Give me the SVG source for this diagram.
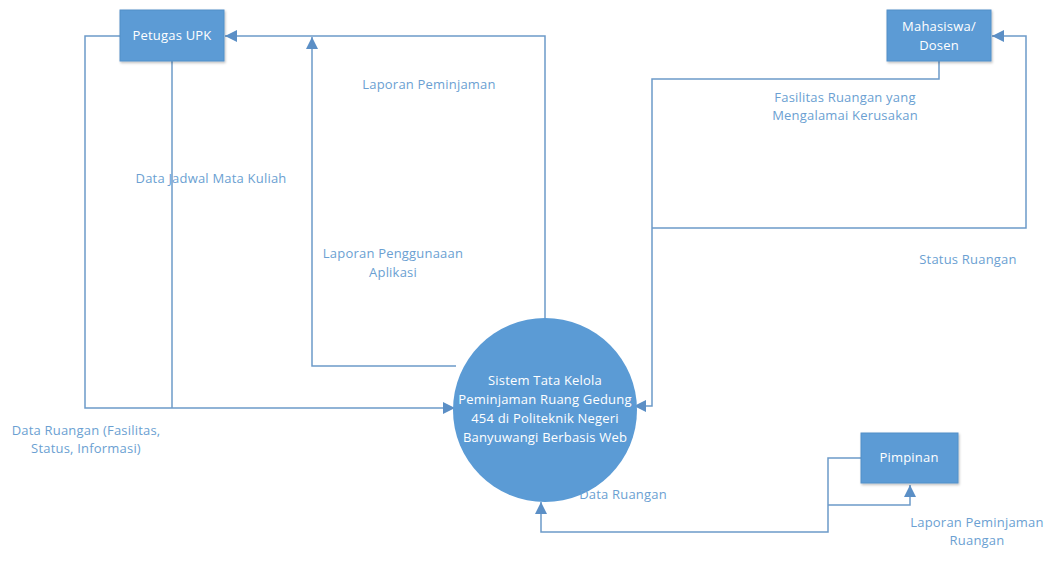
<svg xmlns="http://www.w3.org/2000/svg" width="1062" height="574" viewBox="0 0 1062 574">
<style>
.box{fill:#5b9bd5;stroke:#5590c8;stroke-width:1}
.node-text{font-family:"Open Sans","Liberation Sans",sans-serif;font-size:13px;letter-spacing:0.2px;fill:#ffffff;text-anchor:middle}
.lbl{font-family:"Open Sans","Liberation Sans",sans-serif;font-size:13px;letter-spacing:0.2px;fill:#6b9fd2;text-anchor:middle}
.conn{fill:none;stroke:#6c9bc9;stroke-width:1.5}
</style>
<defs>
<marker id="arr" viewBox="0 0 12 12" refX="12" refY="6" markerWidth="12" markerHeight="12" markerUnits="userSpaceOnUse" orient="auto">
<path d="M0,0 L12,6 L0,12 z" fill="#5b8fc6"/>
</marker>
<filter id="sh" x="-10%" y="-10%" width="130%" height="130%">
<feDropShadow dx="1" dy="1.5" stdDeviation="1.2" flood-color="#000" flood-opacity="0.25"/>
</filter>
</defs>
<rect width="1062" height="574" fill="#ffffff"/>
<g id="connectors">
<path class="conn" d="M545,318 V36 H225" marker-end="url(#arr)"/>
<path class="conn" d="M456,366 H312 V37" marker-end="url(#arr)"/>
<path class="conn" d="M120,36 H85 V408 H455" marker-end="url(#arr)"/>
<path class="conn" d="M172,61 V408"/>
<path class="conn" d="M939,61 V79 H652 V406 H634" marker-end="url(#arr)"/>
<path class="conn" d="M652,228 H1026 V36 H992" marker-end="url(#arr)"/>
<path class="conn" d="M861,458 H828 V532 H541 V502" marker-end="url(#arr)"/>
<path class="conn" d="M828,505 H910 V485" marker-end="url(#arr)"/>
</g>
<g id="petugas-upk">
<rect class="box" x="120" y="10" width="104" height="51" filter="url(#sh)"/>
<text class="node-text" x="172" y="40">Petugas UPK</text>
</g>
<g id="mahasiswa-dosen">
<rect class="box" x="887" y="10" width="104" height="51" filter="url(#sh)"/>
<text class="node-text" x="939" y="31">Mahasiswa/</text>
<text class="node-text" x="939" y="50">Dosen</text>
</g>
<g id="pimpinan">
<rect class="box" x="861" y="433" width="97" height="50" filter="url(#sh)"/>
<text class="node-text" x="909" y="462">Pimpinan</text>
</g>
<g id="sistem">
<circle cx="545" cy="410" r="92" fill="#5b9bd5"/>
<text class="node-text" x="545" y="385">Sistem Tata Kelola</text>
<text class="node-text" x="545" y="404">Peminjaman Ruang Gedung</text>
<text class="node-text" x="545" y="423">454 di Politeknik Negeri</text>
<text class="node-text" x="545" y="442">Banyuwangi Berbasis Web</text>
</g>
<g id="labels">
<text class="lbl" x="429" y="89">Laporan Peminjaman</text>
<text class="lbl" x="211" y="183">Data Jadwal Mata Kuliah</text>
<text class="lbl" x="393" y="258">Laporan Penggunaaan</text>
<text class="lbl" x="393" y="277">Aplikasi</text>
<text class="lbl" x="845" y="102">Fasilitas Ruangan yang</text>
<text class="lbl" x="845" y="120">Mengalamai Kerusakan</text>
<text class="lbl" x="968" y="264">Status Ruangan</text>
<text class="lbl" x="86" y="435">Data Ruangan (Fasilitas,</text>
<text class="lbl" x="86" y="453">Status, Informasi)</text>
<text class="lbl" x="623" y="499">Data Ruangan</text>
<text class="lbl" x="977" y="527">Laporan Peminjaman</text>
<text class="lbl" x="977" y="545">Ruangan</text>
</g>
</svg>
